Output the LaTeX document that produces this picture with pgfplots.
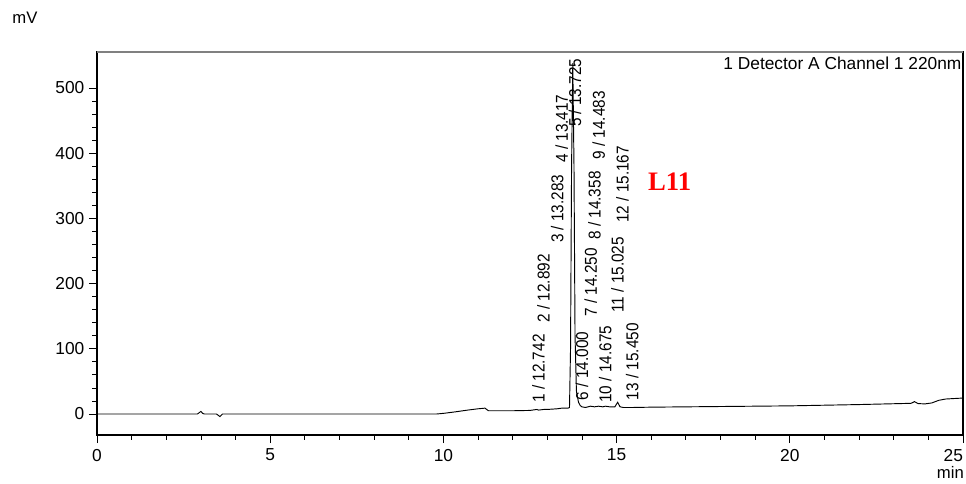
\documentclass[border=0pt]{standalone}
\usepackage{fontspec}
\setmainfont{Liberation Sans}
\newfontfamily\serifbold{Liberation Serif}[BoldFont={Liberation Serif Bold}]
\usepackage{pgfplots}
\pgfplotsset{compat=1.18}
% peak annotation text, set slightly taller across its baseline
\newcommand\pk[1]{\scalebox{1}[1.12]{#1}}
\begin{document}
\begin{tikzpicture}
\path[use as bounding box] (-72.75pt,-36pt) rectangle (651.75pt,326.25pt);
\begin{axis}[
  at={(0,0)}, anchor=south west,
  scale only axis, width=649.5pt, height=287.25pt,
  xmin=0, xmax=25, ymin=-32.2, ymax=555.2,
  xtick={0,5,...,25}, minor x tick num=4,
  xticklabels={0,5,10,15,20,\llap{25}},
  ytick={0,100,...,500}, minor y tick num=4,
  tick align=outside, tick pos=left,
  major tick length=6pt, minor tick length=3.5pt,
  axis line style={line width=0.8pt, black},
  every tick/.style={line width=0.6pt, black},
  /pgf/number format/assume math mode=true,
  ticklabel style={font=\fontsize{13}{15}\selectfont},
  xticklabel style={yshift=-1pt},
  clip=false,
]
% chromatogram trace, detector A channel 1 (220 nm)
\addplot[black, line width=0.7pt] coordinates {
(0,0) (2.9,0) (3.0,4) (3.05,1) (3.1,0) (3.45,0) (3.55,-4) (3.62,0)
(9.8,0) (10.0,1) (10.3,3) (10.7,6) (11.0,8) (11.2,9) (11.3,5) (12.0,5)
(12.5,5.5) (12.7,7) (12.75,6) (12.9,7) (13.0,7) (13.28,8) (13.42,9) (13.6,9)
(13.64,10) (13.67,100) (13.70,380) (13.735,538) (13.77,380) (13.80,120)
(13.84,35) (13.9,18) (13.95,13) (14.0,11) (14.1,10) (14.25,12) (14.36,11)
(14.48,12) (14.6,11) (14.68,12) (14.8,11) (14.95,11) (15.03,18) (15.1,11)
(15.2,10) (15.45,10) (16,10.5) (18,11.5) (20,12.5) (22,14.5) (23.5,16.4)
(23.6,19) (23.7,16) (23.9,15.5) (24.1,17) (24.3,21) (24.5,23) (25,24.5)
};
% grey top edge of the frame
\draw[gray, line width=0.8pt] (rel axis cs:0,1) -- (rel axis cs:1,1);
% peak annotations: number / retention time
\begin{scope}[every node/.style={rotate=90, anchor=west, inner sep=0pt,
    font=\fontsize{11.5}{13}\selectfont}]
\node at (axis cs:12.742,17)  {\pk{1 / 12.742}};
\node at (axis cs:12.892,140) {\pk{2 / 12.892}};
\node at (axis cs:13.283,262) {\pk{3 / 13.283}};
\node at (axis cs:13.417,385) {\pk{4 / 13.417}};
\node at (axis cs:13.80,440)  {\pk{5 / 13.725}};
\node at (axis cs:14.000,21)  {\pk{6 / 14.000}};
\node at (axis cs:14.250,149) {\pk{7 / 14.250}};
\node at (axis cs:14.358,267) {\pk{8 / 14.358}};
\node at (axis cs:14.483,390) {\pk{9 / 14.483}};
\node at (axis cs:14.675,17)  {\pk{10 / 14.675}};
\node at (axis cs:15.025,155) {\pk{11 / 15.025}};
\node at (axis cs:15.167,293) {\pk{12 / 15.167}};
\node at (axis cs:15.450,21)  {\pk{13 / 15.450}};
\end{scope}
\node[anchor=east, inner sep=1pt, font=\fontsize{13}{15}\selectfont]
  at (axis cs:25,538) {1 Detector A Channel 1 220nm};
\node[font=\serifbold\bfseries\fontsize{20}{24}\selectfont, text=red]
  at (axis cs:16.53,356) {L11};
\node[font=\fontsize{12.5}{14}\selectfont] at (axis cs:-2.08,608) {mV};
\node[anchor=east, inner sep=0pt, font=\fontsize{12.5}{14}\selectfont]
  at (axis cs:25.03,-90) {min};
\end{axis}
\end{tikzpicture}
\end{document}
